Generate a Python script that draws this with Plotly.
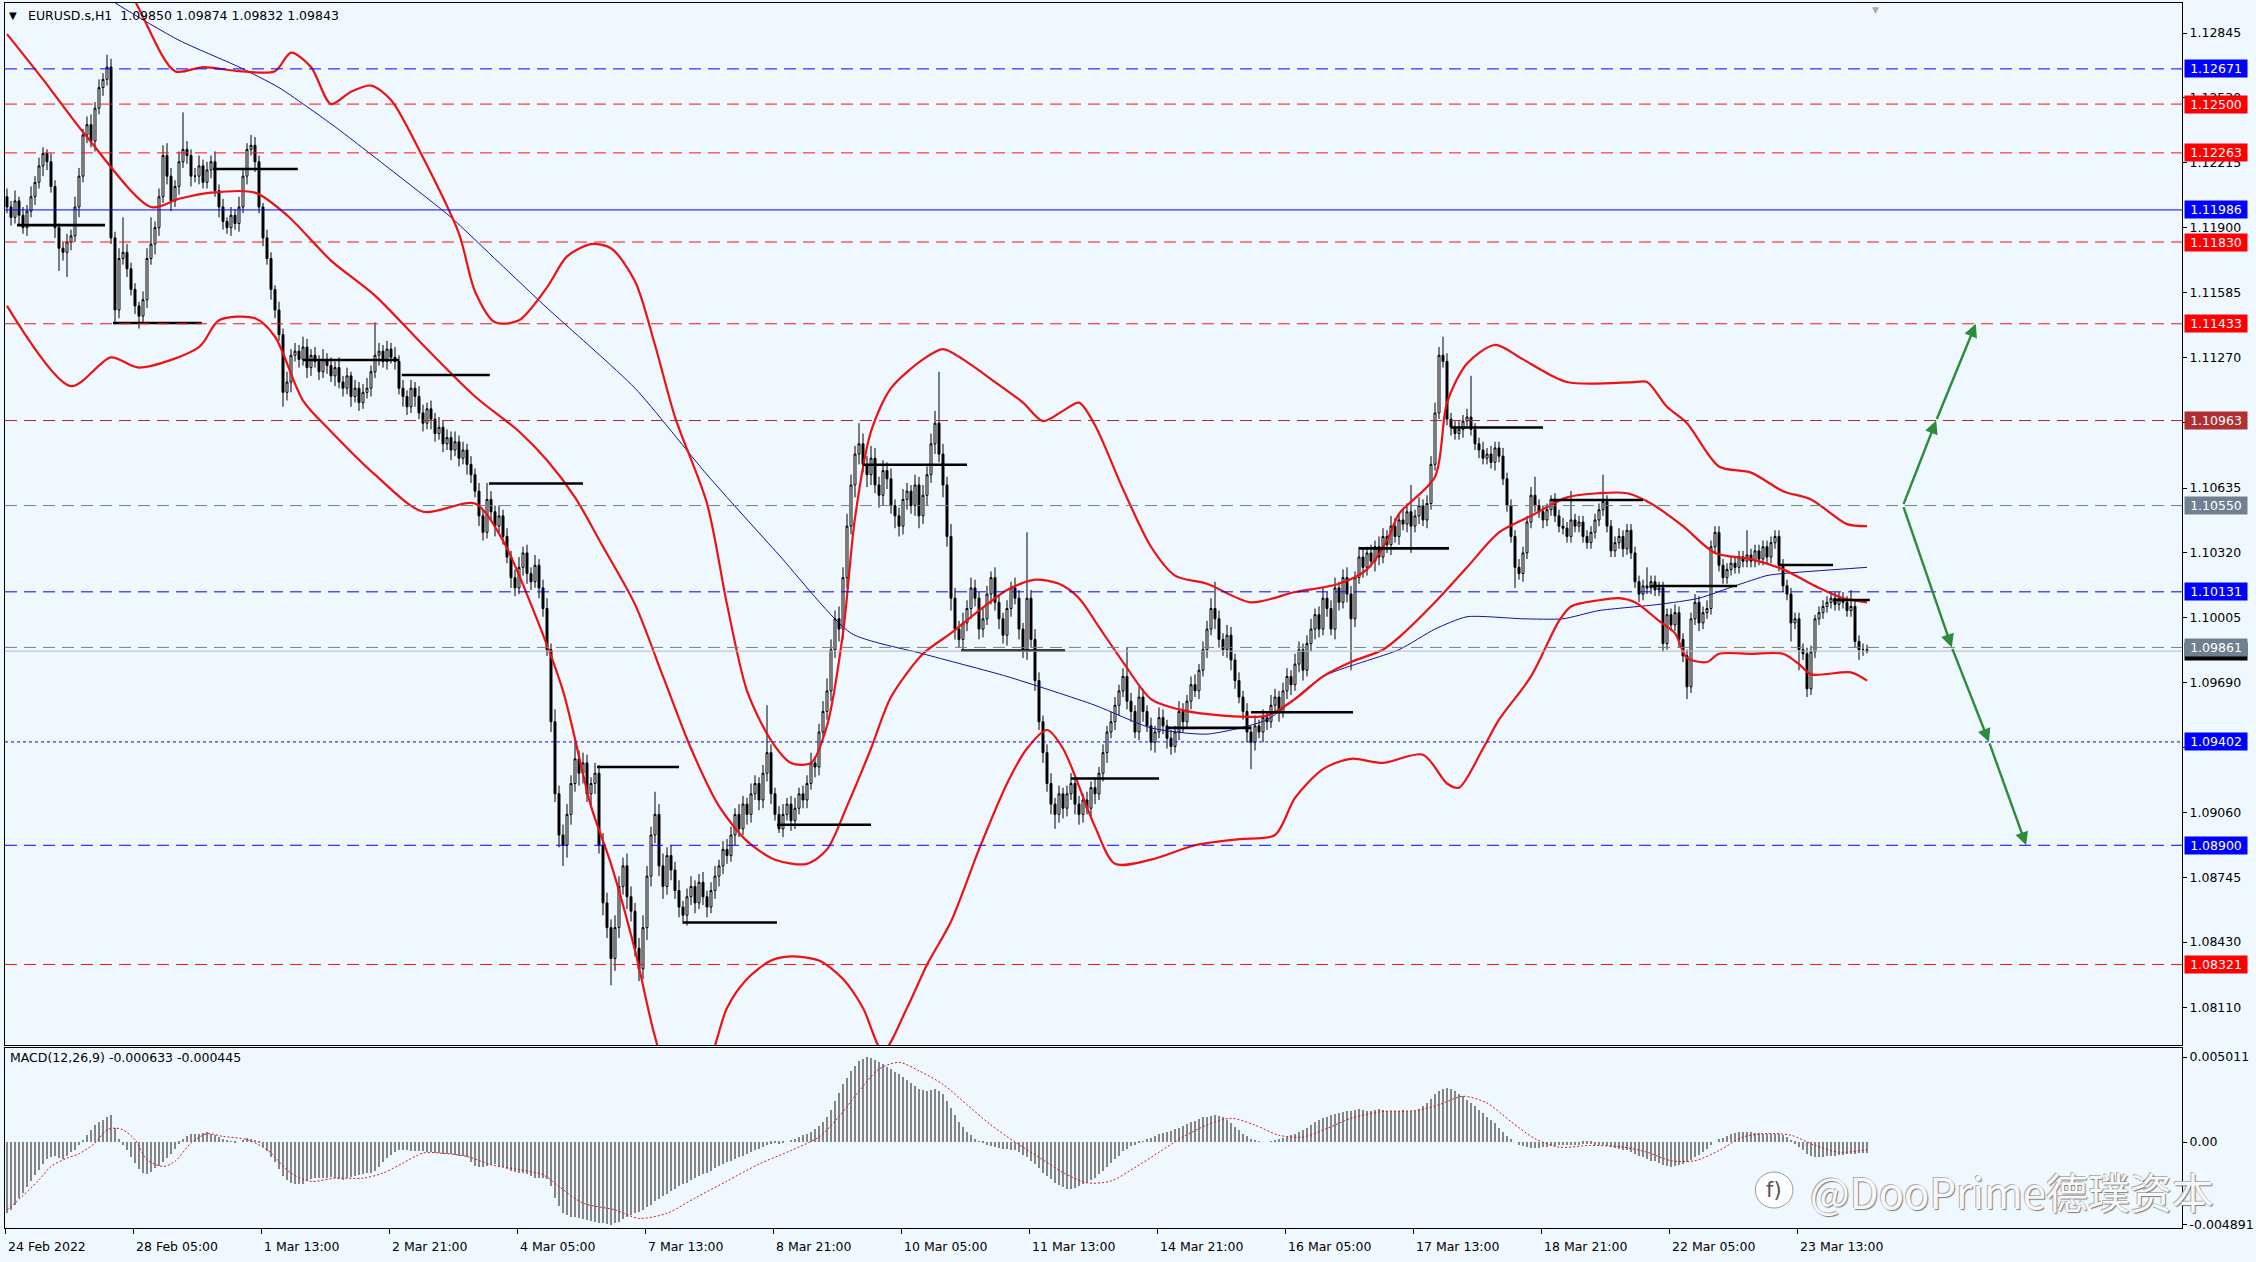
import plotly.graph_objects as go

# ---------------- data ----------------
PIP = 0.0001
first_open = 1.1205

close = [
1.1200,1.1195,1.1203,1.1196,1.1190,1.1198,1.1205,1.1212,1.1220,1.1226,
1.1222,1.1210,1.1190,1.1180,1.1178,1.1183,1.1186,1.1200,1.1215,1.1235,
1.1240,1.1232,1.1248,1.1258,1.1262,1.1268,1.1185,1.1150,1.1175,1.1178,
1.1170,1.1160,1.1152,1.1147,1.1155,1.1175,1.1182,1.1190,1.1205,1.1225,
1.1215,1.1203,1.1210,1.1222,1.1228,1.1225,1.1215,1.1215,1.1220,1.1212,
1.1218,1.1222,1.1208,1.1200,1.1193,1.1190,1.1196,1.1192,1.1200,1.1215,
1.1228,1.1230,1.1222,1.1200,1.1185,1.1175,1.1160,1.1150,1.1138,1.1110,
1.1115,1.1128,1.1130,1.1126,1.1132,1.1122,1.1128,1.1125,1.1120,1.1126,
1.1123,1.1118,1.1122,1.1115,1.1112,1.1118,1.1108,1.1112,1.1105,1.1110,
1.1112,1.1120,1.1128,1.1130,1.1125,1.1131,1.1127,1.1125,1.1112,1.1108,
1.1103,1.1112,1.1108,1.1100,1.1095,1.1102,1.1097,1.1090,1.1093,1.1085,
1.1088,1.1082,1.1086,1.1078,1.1082,1.1075,1.1070,1.1062,1.1050,1.1042,
1.1058,1.1052,1.1045,1.1050,1.1040,1.1030,1.1020,1.1015,1.1025,1.1032,
1.1022,1.1018,1.1026,1.1015,1.1005,1.0985,1.0950,1.0915,1.0895,1.0890,
1.0905,1.0920,1.0932,1.0925,1.0930,1.0915,1.0920,1.0925,1.0890,1.0862,
1.0850,1.0835,1.0850,1.0870,1.0880,1.0865,1.0858,1.0840,1.0830,1.0850,
1.0875,1.0895,1.0905,1.0880,1.0870,1.0885,1.0878,1.0868,1.0860,1.0856,
1.0865,1.0870,1.0862,1.0872,1.0865,1.0860,1.0868,1.0875,1.0880,1.0888,
1.0885,1.0895,1.0905,1.0898,1.0910,1.0905,1.0915,1.0920,1.0912,1.0925,
1.0935,1.0915,1.0905,1.0898,1.0905,1.0910,1.0902,1.0908,1.0915,1.0912,
1.0920,1.0930,1.0928,1.0945,1.0955,1.0965,1.0985,1.1000,1.0995,1.1020,
1.1045,1.1065,1.1080,1.1085,1.1075,1.1070,1.1078,1.1065,1.1060,1.1072,
1.1068,1.1055,1.1050,1.1045,1.1058,1.1062,1.1055,1.1065,1.1050,1.1060,
1.1070,1.1085,1.1095,1.1080,1.1065,1.1040,1.1010,1.0995,1.0990,1.0998,
1.1005,1.1015,1.1010,1.0995,1.1000,1.1012,1.1020,1.1008,1.1000,1.0992,
1.1005,1.1015,1.1010,1.0995,1.0985,1.1010,1.0990,1.0970,1.0950,1.0935,
1.0920,1.0910,1.0905,1.0915,1.0908,1.0915,1.0920,1.0910,1.0905,1.0912,
1.0908,1.0918,1.0915,1.0925,1.0935,1.0945,1.0950,1.0958,1.0965,1.0972,
1.0960,1.0955,1.0945,1.0962,1.0955,1.0948,1.0940,1.0945,1.0952,1.0948,
1.0942,1.0938,1.0945,1.0955,1.0950,1.0960,1.0968,1.0965,1.0975,1.0985,
1.0995,1.1005,1.1000,1.0990,1.0985,1.0992,1.0980,1.0970,1.0962,1.0955,
1.0945,1.0940,1.0948,1.0945,1.0952,1.0950,1.0958,1.0962,1.0955,1.0965,
1.0972,1.0968,1.0978,1.0985,1.0975,1.0988,1.0995,1.1002,1.0995,1.1010,
1.1005,1.0995,1.1015,1.1008,1.1020,1.1012,1.1000,1.1020,1.1030,1.1025,
1.1032,1.1028,1.1035,1.1030,1.1040,1.1036,1.1045,1.1040,1.1048,1.1046,
1.1052,1.1045,1.1050,1.1055,1.1048,1.1056,1.1075,1.1100,1.1128,1.1125,
1.1097,1.1093,1.1090,1.1092,1.1096,1.1098,1.1092,1.1085,1.1082,1.1078,
1.1080,1.1076,1.1083,1.1079,1.1068,1.1055,1.1040,1.1025,1.1022,1.1032,
1.1047,1.1060,1.1055,1.1052,1.1048,1.1053,1.1058,1.1050,1.1045,1.1044,
1.1040,1.1048,1.1045,1.1047,1.1040,1.1037,1.1042,1.1048,1.1053,1.1057,
1.1045,1.1033,1.1037,1.1040,1.1034,1.1043,1.1032,1.1018,1.1012,1.1016,
1.1015,1.1018,1.1014,1.1015,1.0988,1.1002,1.0997,1.1003,1.0990,1.0982,
1.0967,1.1000,1.1008,1.0998,1.1003,1.1005,1.1035,1.1042,1.1026,1.1020,
1.1024,1.1027,1.1025,1.1030,1.1028,1.1031,1.1028,1.1033,1.1029,1.1035,
1.1030,1.1037,1.1040,1.1026,1.1016,1.1012,1.0998,1.1000,1.0985,1.0983,
1.0966,1.0984,1.1000,1.1003,1.1006,1.1008,1.1010,1.1007,1.1010,1.1008,
1.1004,1.1006,1.0989,1.0985,1.0985,1.09843]

wick_up = [
4,3,5,2,4,3,5,3,4,3, 2,4,3,2,3,4,3,5,4,3, 4,5,3,4,3,6,4,3,5,17,
4,3,3,2,4,5,13,3,4,5, 6,4,3,5,18,4,3,4,5,3, 4,3,5,3,4,2,4,3,5,4,
3,5,4,3,2,4,3,2,4,3, 5,3,4,3,5,4,3,4,3,5, 3,4,3,5,3,4,2,4,3,4,
5,3,16,4,3,4,3,5,3,4, 3,4,3,5,4,3,4,3,5,3, 4,3,5,3,4,3,4,3,4,3,
8,4,3,5,3,4,3,4,5,3, 4,3,5,3,4,5,3,6,4,5, 5,4,8,4,5,4,3,5,4,6,
5,4,6,5,4,6,5,4,5,6, 5,4,11,5,6,4,5,4,5,3, 4,5,3,4,5,3,4,5,3,4,
5,4,3,5,4,3,5,4,3,4, 23,4,3,4,5,3,4,5,3,4, 4,5,3,4,5,6,5,4,6,5,
6,5,4,10,5,4,6,5,4,5, 4,5,3,4,5,4,3,5,4,5, 4,5,6,25,5,4,6,5,4,5,
4,5,4,3,5,4,3,5,4,3, 4,3,5,4,3,32,4,5,4,3, 4,5,3,4,3,4,5,3,4,3,
4,3,5,3,4,3,5,4,3,4, 14,4,3,5,4,3,4,3,5,4, 3,4,3,5,4,3,4,5,3,4,
4,5,13,4,3,5,4,3,4,3, 4,3,5,3,4,3,5,4,3,4, 4,3,5,4,3,4,5,3,4,5,
3,4,5,3,4,5,4,3,5,4, 3,4,3,5,4,3,5,4,3,5, 4,13,3,4,3,4,4,5,4,9,
4,3,3,4,3,4,20,3,3,4, 3,4,3,3,4,3,3,3,4,3, 3,4,9,3,3,3,2,3,3,4,
3,14,3,3,3,3,3,3,3,13, 3,3,3,4,3,3,3,3,3,3, 9,3,3,3,3,3,3,4,3,3,
3,3,4,3,3,4,3,3,3,3, 3,3,3,3,3,12,3,3,3,3, 3,3,3,3,3,3,3,3,3,3,
3,3,2,3,3,3,3,3,3,3, 3,8,3,3,3,2.4]

wick_dn = [
3,4,3,5,3,4,3,4,3,5, 4,3,5,11,4,12,4,3,5,3, 4,3,5,3,4,3,3,7,4,3,
4,3,4,6,3,4,3,5,4,3, 4,5,3,4,3,4,5,3,4,3, 3,4,3,5,4,3,4,3,4,3,
4,3,5,3,4,3,5,4,3,7, 4,5,3,4,3,5,4,3,4,3, 4,3,5,3,4,3,5,3,4,3,
3,4,3,5,3,4,3,4,3,5, 4,3,5,3,4,3,5,4,3,4, 3,5,3,4,3,5,4,3,5,4,
3,4,5,3,4,3,5,4,3,4, 5,4,3,5,4,3,5,4,6,10, 6,5,4,6,5,4,6,5,4,6,
5,13,6,5,4,6,5,4,6,5, 6,5,4,5,6,4,5,4,5,4, 5,4,5,3,4,5,3,4,5,4,
4,3,5,4,3,5,4,3,5,4, 4,5,3,2,4,3,5,4,3,4, 4,3,5,4,3,4,5,4,6,5,
5,4,6,5,4,6,5,4,6,5, 5,4,6,5,4,5,4,5,6,4, 5,4,5,4,6,5,6,5,4,5,
4,5,4,5,4,3,5,4,5,4, 5,4,3,5,4,5,4,5,4,5, 4,5,7,4,5,4,3,5,5,4,
3,4,5,3,4,5,3,4,5,3, 4,5,3,4,5,3,4,5,3,4, 5,4,3,4,5,3,4,3,4,3,
4,3,5,4,3,4,5,4,3,4, 5,13,4,3,5,4,3,4,5,3, 4,5,3,4,5,3,4,5,4,3,
4,3,5,4,3,4,25,4,3,5, 4,3,5,4,3,4,5,3,4,3, 4,13,3,4,3,4,3,3,3,3,
3,4,3,3,4,3,3,3,4,3, 3,3,4,3,3,3,3,10,3,4, 3,3,3,3,4,3,3,3,3,3,
3,3,3,3,3,3,3,3,3,3, 3,3,3,3,4,3,3,3,4,3, 3,3,3,3,4,3,3,3,4,3,
6,3,3,4,3,3,3,3,3,3, 3,3,3,3,3,3,3,3,3,3, 3,3,3,3,3,3,9,3,10,3,
4,3,3,3,3,3,3,3,3,3, 3,3,3,5,3,1.1]

# Bollinger bands (read at sample bars)
bb_up_bar = [0,16,32,42,49,58,67,71,76,81,86,91,96,104,113,117,122,128,135,140,
             146,151,157,162,167,175,180,185,191,196,201,205,209,212,216,221,229,234,239,247,
             254,259,264,268,272,279,286,292,300,311,322,333,340,345,348,357,360,365,372,379,
             390,407,410,415,420,428,436,444,451,460,465]
bb_up = [1.1419,1.1356,1.1300,1.1266,1.1268,1.1266,1.1266,1.1275,1.1268,1.1250,
         1.1256,1.1259,1.1252,1.1224,1.1187,1.1159,1.1144,1.1145,1.1161,1.1176,
         1.1182,1.1180,1.1164,1.1133,1.1098,1.1056,1.1007,1.0965,1.0941,1.0930,
         1.0930,1.0948,1.0993,1.1049,1.1091,1.1112,1.1126,1.1131,1.1126,1.1115,
         1.1105,1.1096,1.1101,1.1105,1.1094,1.1063,1.1035,1.1021,1.1017,1.1008,
         1.1013,1.1017,1.1024,1.1038,1.1051,1.1069,1.1105,1.1124,1.1133,1.1126,
         1.1115,1.1115,1.1115,1.1103,1.1095,1.1074,1.1071,1.1062,1.1058,1.1046,1.1045]
bb_mid_bar = [0,9,20,36,43,51,62,70,81,92,104,117,128,135,142,149,157,164,171,178,
              185,192,200,205,210,216,221,229,236,243,250,257,263,268,273,279,286,293,304,315,
              322,329,336,344,348,357,365,373,381,390,398,405,411,419,427,436,444,453,459,465]
bb_mid = [1.1284,1.1262,1.1234,1.1200,1.1204,1.1207,1.1207,1.1196,1.1174,1.1157,
          1.1133,1.1108,1.1091,1.1077,1.1059,1.1035,1.1007,1.0972,1.0937,1.0909,
          1.0892,1.0883,1.0881,1.0888,1.0909,1.0937,1.0962,1.0983,1.0993,1.1004,
          1.1014,1.1019,1.1017,1.1010,1.0996,1.0979,1.0961,1.0956,1.0953,1.0953,
          1.0961,1.0972,1.0979,1.0985,1.0991,1.1008,1.1025,1.1042,1.1050,1.1059,
          1.1061,1.1061,1.1056,1.1045,1.1032,1.1029,1.1024,1.1015,1.1010,1.1008]
bb_lo_bar = [0,16,26,33,48,53,62,67,74,81,92,104,117,124,131,139,146,151,157,162,
             167,175,180,185,191,196,203,209,214,219,225,230,236,243,250,255,260,264,272,277,
             286,297,308,317,322,329,336,344,354,360,363,369,373,381,388,391,398,403,407,413,
             417,420,425,428,436,444,448,451,461,465]
bb_lo = [1.1152,1.1113,1.1127,1.1122,1.1132,1.1145,1.1146,1.1137,1.1106,1.1091,
         1.1070,1.1052,1.1056,1.1038,1.1007,1.0965,1.0909,1.0881,1.0839,1.0797,
         1.0769,1.0783,1.0811,1.0825,1.0834,1.0836,1.0834,1.0825,1.0811,1.0790,
         1.0811,1.0832,1.0853,1.0888,1.0920,1.0937,1.0946,1.0937,1.0899,1.0881,
         1.0883,1.0890,1.0893,1.0895,1.0913,1.0927,1.0932,1.0930,1.0934,1.0920,
         1.0918,1.0937,1.0951,1.0972,1.0999,1.1006,1.1009,1.1010,1.1008,1.0999,
         1.0993,1.0981,1.0979,1.0983,1.0983,1.0983,1.0978,1.0973,1.0974,1.0970]

# slow moving average (blue)
ma_bar = [0,28,43,58,68,82,98,111,123,135,157,175,193,211,229,250,272,286,300,315,329,
          348,357,365,379,389,398,413,423,432,440,444,465]
ma = [1.1335,1.1298,1.1281,1.1268,1.1258,1.1239,1.1215,1.1195,1.1173,1.1151,1.1112,
      1.1070,1.1031,1.0993,1.0983,1.0972,1.0958,1.0947,1.0944,1.0951,1.0972,
      1.0985,1.0995,1.1001,1.1000,1.1000,1.1004,1.1007,1.1010,1.1016,1.1021,1.1022,1.1025]

# black swing segments (start bar, end bar, price)
seg_start = [2.5,26.5,51.5,74,98.7,120.5,147.5,169,192.5,214,238.5,266,290,311,338,361,386,410.7,443,456.5]
seg_end = [24.5,48.7,72.7,98,120.7,144,168,192.5,216,240,264.5,288,311,336.5,360.5,384,409,432.5,456.5,465.7]
seg_price = [1.11912,1.11437,1.12185,1.11257,1.11184,1.10657,1.09280,1.08525,1.09000,1.10748,
             1.09846,1.09224,1.09470,1.09546,1.10342,1.10929,1.10577,1.10159,1.10261,1.10091]

# horizontal levels
level_price = [1.12671,1.12500,1.12263,1.11986,1.11830,1.11433,1.10963,1.10550,1.10131,1.09861,1.09402,1.08900,1.08321]
level_kind = ['blue_dash','red_dash','red_dash','blue_solid','red_dash','red_dash','brown_dash',
              'gray_dash','blue_dash','gray_dash','blue_dot','blue_dash','red_dash']
bid_price = 1.09843

# projection arrows (tail bar, tail price, head bar, head price)
arr_from_bar = [474.0,482.3,474.0,486.2,495.5]
arr_from_px = [1.10550,1.10963,1.10550,1.09861,1.09402]
arr_to_bar = [482.3,492.2,486.2,495.5,504.8]
arr_to_px = [1.10963,1.11433,1.09861,1.09402,1.08900]

# MACD main (units of 1e-5) and signal
macd = [
-420,-400,-370,-330,-300,-265,-230,-195,-165,-130,
-100,-90,-85,-95,-100,-85,-60,-45,-20,10,
40,70,100,115,130,145,160,80,20,-20,
-50,-90,-125,-160,-185,-190,-175,-155,-140,-120,
-95,-70,-40,-10,15,35,45,45,50,55,
57,50,40,30,15,10,5,-2,0,10,
25,20,10,-5,-30,-55,-90,-120,-160,-200,
-225,-240,-250,-250,-245,-230,-220,-215,-215,-210,
-210,-205,-210,-220,-225,-215,-205,-200,-195,-190,
-185,-180,-170,-150,-120,-95,-75,-60,-50,-45,
-50,-55,-55,-55,-55,-60,-60,-65,-65,-70,
-70,-70,-75,-80,-85,-90,-120,-140,-150,-145,
-140,-135,-130,-140,-150,-160,-170,-175,-180,-185,
-190,-200,-210,-215,-215,-220,-260,-330,-380,-420,
-430,-440,-445,-450,-455,-460,-465,-470,-475,-480,
-485,-489,-480,-470,-455,-445,-430,-420,-410,-400,
-385,-370,-350,-335,-320,-305,-290,-275,-260,-250,
-240,-225,-210,-200,-190,-180,-170,-155,-140,-130,
-120,-110,-100,-90,-80,-70,-60,-50,-40,-30,
-15,-10,-5,-10,-5,0,10,20,30,40,
50,60,75,95,120,150,190,240,290,340,
380,420,450,475,490,501,495,485,470,460,
445,430,415,400,385,365,345,330,315,305,
300,305,310,300,280,240,200,160,120,90,
60,40,20,5,-5,-15,-25,-30,-35,-40,
-40,-45,-50,-60,-75,-90,-110,-130,-155,-180,
-200,-220,-240,-255,-265,-275,-278,-270,-260,-250,
-240,-225,-210,-190,-170,-150,-125,-100,-80,-55,
-40,-25,-15,-5,5,15,25,35,45,55,
60,65,75,85,95,105,115,125,135,145,
150,155,160,155,145,130,110,90,70,50,
35,20,10,5,0,0,5,10,15,25,
30,40,50,60,70,85,100,115,130,140,
150,160,165,170,175,180,185,190,195,190,
185,185,190,195,190,185,180,180,185,190,
185,180,185,195,210,230,255,280,300,315,
320,315,300,285,270,250,230,210,190,170,
150,130,110,85,60,35,15,0,-15,-25,
-30,-35,-35,-35,-30,-30,-25,-25,-20,-20,
-20,-15,-15,-15,-10,-10,-10,-15,-15,-20,
-25,-30,-35,-40,-45,-50,-60,-70,-80,-90,
-100,-110,-115,-125,-135,-140,-145,-140,-135,-130,
-120,-105,-90,-75,-60,-40,-20,0,15,25,
35,45,55,60,60,60,60,55,55,50,
50,50,50,45,40,30,10,-10,-30,-50,
-70,-85,-90,-90,-88,-85,-82,-80,-78,-75,
-72,-70,-68,-66,-64,-63.3]
sig_bar = [0,2,8,11,15,18,22,25,27,29,32,35,39,42,46,50,54,60,65,71,
           76,82,89,94,99,104,108,115,121,128,134,138,144,152,158,165,172,180,188,196,
           203,208,213,218,223,228,234,240,246,252,258,264,270,276,282,288,294,300,306,312,
           318,324,330,336,344,352,358,364,370,376,382,388,396,404,410,416,422,428,434,440,
           446,452,458,465]
sig = [-400,-360,-223,-144,-95,-70,-6,72,82,72,14,-104,-144,-114,-6,49,33,14,-45,-183,
       -232,-213,-213,-183,-124,-65,-65,-85,-134,-163,-193,-262,-360,-400,-450,-420,-330,-230,-130,-50,
       30,150,300,430,470,420,340,220,100,0,-90,-180,-240,-230,-150,-60,30,100,140,100,
       40,30,80,140,180,185,220,270,230,120,20,-30,-20,-30,-60,-110,-110,-50,30,50,
       40,-20,-60,-44.5]

# axis labels (labels hidden behind level boxes in the reference are left blank)
price_ticks = [1.12845,1.12530,1.12215,1.11900,1.11585,1.11270,1.10955,1.10635,1.10320,
               1.10005,1.09690,1.09375,1.09060,1.08745,1.08430,1.08110]
price_tick_text = ["1.12845","1.12530","1.12215","1.11900","1.11585","1.11270","","1.10635","1.10320",
                   "1.10005","1.09690","","1.09060","1.08745","1.08430","1.08110"]
date_labels = ["24 Feb 2022","28 Feb 05:00","1 Mar 13:00","2 Mar 21:00","4 Mar 05:00",
               "7 Mar 13:00","8 Mar 21:00","10 Mar 05:00","11 Mar 13:00","14 Mar 21:00",
               "16 Mar 05:00","17 Mar 13:00","18 Mar 21:00","22 Mar 05:00","23 Mar 13:00"]
date_bars = [-0.5,31.5,63.5,95.5,127.5,159.5,191.5,223.5,255.5,287.5,319.5,351.5,383.5,415.5,447.5]
macd_ticks = [0.005011, 0.0, -0.004891]
macd_tick_text = ["0.005011", "0.00", "-0.004891"]

for name, arr in [("close", close), ("wick_up", wick_up), ("wick_dn", wick_dn), ("macd", macd)]:
    if len(arr) != len(close):
        raise ValueError(f"{name} has {len(arr)} values, expected {len(close)}")

# ---------------- build figure ----------------
n = len(close)
bars = list(range(n))
opens = [first_open] + close[:-1]
high = [max(o, c) + u * PIP for o, c, u in zip(opens, close, wick_up)]
low = [min(o, c) - d * PIP for o, c, d in zip(opens, close, wick_dn)]

BG = "#F0F8FF"
FONT = "DejaVu Sans"
RED = "#EE1111"

fig = go.Figure()

fig.add_trace(go.Scatter(x=ma_bar, y=ma, mode="lines", hoverinfo="skip",
                         line=dict(color="#10109A", width=1, shape="spline", smoothing=0.6)))
for bx, by in [(bb_up_bar, bb_up), (bb_mid_bar, bb_mid), (bb_lo_bar, bb_lo)]:
    fig.add_trace(go.Scatter(x=bx, y=by, mode="lines", hoverinfo="skip",
                             line=dict(color=RED, width=2.2, shape="spline", smoothing=0.8)))

fig.add_trace(go.Candlestick(
    x=bars, open=opens, high=high, low=low, close=close,
    increasing=dict(line=dict(color="black", width=1), fillcolor="white"),
    decreasing=dict(line=dict(color="black", width=1), fillcolor="black"),
    whiskerwidth=0, hoverinfo="skip"))

sx, sy = [], []
for a, b, p in zip(seg_start, seg_end, seg_price):
    sx += [a, b, None]
    sy += [p, p, None]
fig.add_trace(go.Scatter(x=sx, y=sy, mode="lines", hoverinfo="skip",
                         line=dict(color="black", width=2.6)))

# MACD
fig.add_trace(go.Bar(x=bars, y=[v * 1e-5 for v in macd], xaxis="x2", yaxis="y2",
                     marker=dict(color="#858585", line=dict(width=0)), width=0.55, hoverinfo="skip"))
fig.add_trace(go.Scatter(x=sig_bar, y=[v * 1e-5 for v in sig], xaxis="x2", yaxis="y2", mode="lines",
                         hoverinfo="skip",
                         line=dict(color="#D01818", width=1, dash="2px,2px", shape="spline", smoothing=0.8)))

styles = {
    "blue_dash": ("#0000FF", "12px,7px", "#0000FF"),
    "red_dash": ("#FF1010", "12px,7px", "#FF0000"),
    "blue_solid": ("#0000FF", "solid", "#0000FF"),
    "brown_dash": ("#A52A2A", "12px,7px", "#AE3030"),
    "gray_dash": ("#708090", "12px,7px", "#708090"),
    "blue_dot": ("#0000FF", "3px,3px", "#0000FF"),
}

shapes = []
annotations = []

# bid line + its (mostly hidden) black box
shapes.append(dict(type="line", xref="x domain", yref="y", x0=0, x1=1, y0=bid_price, y1=bid_price,
                   line=dict(color="#B8B8B8", width=1)))
annotations.append(dict(xref="paper", yref="y", x=1, y=bid_price, xanchor="left", yanchor="middle",
                        xshift=2, text=f"{bid_price:.5f}", showarrow=False, bgcolor="black",
                        font=dict(family=FONT, size=12.5, color="white"), width=60, height=15, borderpad=1))

for p, k in zip(level_price, level_kind):
    lc, dash, bg = styles[k]
    shapes.append(dict(type="line", xref="x domain", yref="y", x0=0, x1=1, y0=p, y1=p,
                       line=dict(color=lc, width=1, dash=dash)))
    annotations.append(dict(xref="paper", yref="y", x=1, y=p, xanchor="left", yanchor="middle",
                            xshift=2, text=f"{p:.5f}", showarrow=False, bgcolor=bg,
                            font=dict(family=FONT, size=12.5, color="white"),
                            width=60, height=15, borderpad=1))

for fx, fy, tx, ty in zip(arr_from_bar, arr_from_px, arr_to_bar, arr_to_px):
    annotations.append(dict(x=tx, y=ty, ax=fx, ay=fy, xref="x", yref="y", axref="x", ayref="y",
                            showarrow=True, arrowhead=2, arrowsize=1.1, arrowwidth=2.4,
                            arrowcolor="#2E8B3A", text=""))

for b, t in zip(date_bars, date_labels):
    annotations.append(dict(xref="x2", yref="paper", x=b, y=-0.0147, xanchor="left", yanchor="middle",
                            xshift=1, text=t, showarrow=False,
                            font=dict(family=FONT, size=12.5, color="black")))

# header texts
annotations.append(dict(xref="paper", yref="paper", x=0.0037, y=0.9894, xanchor="center", yanchor="middle",
                        text="▼", showarrow=False, font=dict(family=FONT, size=10, color="black")))
annotations.append(dict(xref="paper", yref="paper", x=0.0097, y=0.9894, xanchor="left", yanchor="middle",
                        text="EURUSD.s,H1\u00a0\u00a01.09850 1.09874 1.09832 1.09843", showarrow=False,
                        font=dict(family=FONT, size=12.5, color="black")))
annotations.append(dict(xref="paper", yref="paper", x=0.859, y=1, xanchor="center", yanchor="top",
                        text="▼", showarrow=False, font=dict(family=FONT, size=9, color="#A8A8A8")))
annotations.append(dict(xref="paper", yref="paper", x=0.0014, y=0.1388, xanchor="left", yanchor="middle",
                        text="MACD(12,26,9) -0.000633 -0.000445", showarrow=False,
                        font=dict(family=FONT, size=12.5, color="black")))

# watermark
shapes.append(dict(type="circle", xref="paper", yref="paper", x0=0.8040, x1=0.8213, y0=0.0163, y1=0.0457,
                   line=dict(color="#9A9A9A", width=1), fillcolor="rgba(255,255,255,0.7)"))
annotations.append(dict(xref="paper", yref="paper", x=0.8127, y=0.0310, xanchor="center", yanchor="middle",
                        text="f)", showarrow=False,
                        font=dict(family="DejaVu Sans", size=21, color="#555555")))
annotations.append(dict(xref="paper", yref="paper", x=0.8283, y=0.0310, xanchor="left", yanchor="middle",
                        text="@DooPrime德璞资本", showarrow=False,
                        font=dict(family="Noto Sans CJK SC", size=42, color="#F6F8FA",
                                  shadow="1px 1px 1px #7A7A7A, -1px -1px 0px #B0B0B0")))

axis_common = dict(showgrid=False, zeroline=False, showline=True, mirror=True,
                   linecolor="black", linewidth=1)

fig.update_layout(
    width=2256, height=1262,
    margin=dict(l=5, r=74, t=3, b=34),
    paper_bgcolor=BG, plot_bgcolor=BG,
    showlegend=False,
    font=dict(family=FONT, size=12.5, color="black"),
    bargap=0,
    shapes=shapes,
    annotations=annotations,
    xaxis=dict(domain=[0, 1], range=[-0.5, 543.75], anchor="y", showticklabels=False, ticks="",
               rangeslider=dict(visible=False), **axis_common),
    yaxis=dict(domain=[0.1494, 1], range=[1.07930, 1.12991], side="right", anchor="x",
               tickvals=price_ticks, ticktext=price_tick_text,
               ticks="outside", ticklen=4, tickcolor="black",
               tickfont=dict(family=FONT, size=12.5, color="black"), **axis_common),
    xaxis2=dict(domain=[0, 1], range=[-0.5, 543.75], anchor="y2", showticklabels=False,
                tickvals=date_bars, ticks="outside", ticklen=5, tickcolor="black", **axis_common),
    yaxis2=dict(domain=[0, 0.1469], range=[-0.005068, 0.005541], side="right", anchor="x2",
                tickvals=macd_ticks, ticktext=macd_tick_text, ticks="outside", ticklen=4,
                tickcolor="black", tickfont=dict(family=FONT, size=12.5, color="black"), **axis_common),
)

fig.write_html("out.html")
